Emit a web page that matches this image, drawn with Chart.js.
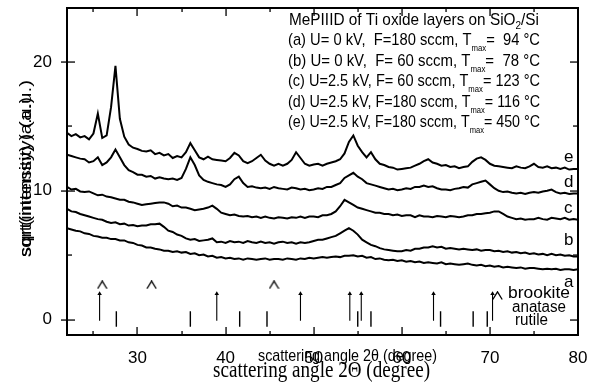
<!DOCTYPE html>
<html>
<head>
<meta charset="utf-8">
<script src="https://cdn.jsdelivr.net/npm/chart.js@4.4.1/dist/chart.umd.min.js"></script>
<style>
  html, body { margin: 0; padding: 0; background: #fff; }
  canvas { display: block; }
</style>
</head>
<body>
<canvas id="c" width="595" height="383"></canvas>
<script>
const ANGLE_START = 22;
const ANGLE_STEP = 0.5;

const seriesE = [
  14.5, 14.25, 14.4, 14.15, 14.25, 14.0, 14.45, 16.0, 14.1, 14.3,
  16.5, 19.7, 15.6, 14.2, 13.6, 13.35, 13.25, 13.1, 13.05, 13.15,
  12.85, 12.95, 12.75, 12.85, 12.55, 12.7, 12.6, 13.0, 13.7, 13.15,
  12.6, 12.45, 12.65, 12.45, 12.4, 12.35, 12.3, 12.55, 12.95, 12.75,
  12.3, 12.15, 12.3, 12.55, 12.8, 12.35, 12.1, 11.95, 12.1, 11.95,
  12.1, 12.4, 13.0, 12.55, 12.1, 11.95, 12.05, 12.1, 11.95, 12.1,
  12.2, 12.3, 12.45, 12.9, 13.8, 14.3, 13.5, 13.0, 12.6, 13.0,
  12.45, 12.1, 12.0, 11.85, 11.8, 11.65, 11.7, 11.75, 11.8, 11.95,
  12.1, 12.3, 12.45, 12.2, 12.1, 11.95, 12.0, 11.85, 11.9, 11.75,
  11.85, 11.9, 12.25, 12.5, 12.6, 12.4, 12.1, 11.95, 11.9, 11.85,
  11.8, 11.75, 11.9, 11.8, 11.75, 11.9, 12.1, 11.85, 11.8, 11.9,
  11.75, 11.8, 11.7, 11.8, 11.65, 11.7, 11.7
];
const seriesD = [
  12.8, 12.7, 12.6, 12.5, 12.45, 12.2, 12.3, 12.6, 12.0, 12.2,
  12.6, 13.2, 12.6, 12.0, 11.6, 11.45, 11.25, 11.25, 11.1, 11.15,
  10.95, 11.05, 10.95, 10.9, 10.95, 10.85, 11.0, 11.7, 12.6, 12.0,
  11.2, 10.85, 10.7, 10.6, 10.5, 10.45, 10.3, 10.5, 10.9, 11.1,
  10.6, 10.3, 10.35, 10.25, 10.2, 10.25, 10.15, 10.3, 10.2, 10.15,
  10.1, 10.25, 10.2, 10.1, 10.15, 10.05, 10.1, 10.2, 10.15, 10.3,
  10.3, 10.45, 10.6, 11.0, 11.2, 11.4, 11.1, 10.9, 10.6, 10.5,
  10.4, 10.3, 10.2, 10.1, 10.15, 10.05, 10.1, 10.2, 10.15, 10.3,
  10.3, 10.4, 10.3, 10.35, 10.2, 10.1, 10.1, 10.05, 10.15, 10.2,
  10.3, 10.25, 10.5, 10.6, 10.7, 10.8, 10.5, 10.2, 10.0, 9.9,
  9.95, 9.85, 9.8, 9.85, 9.75, 9.85, 9.9, 9.85, 9.95, 10.0,
  10.1, 9.9, 9.8, 9.85, 9.75, 9.8, 9.8
];
const seriesC = [
  10.3, 10.1, 10.15, 9.95, 9.9, 9.95, 9.8, 9.65, 9.7, 9.55,
  9.5, 9.4, 9.3, 9.3, 9.15, 9.1, 9.0, 8.9, 8.95, 9.0,
  9.05, 9.1, 9.1, 9.0, 8.8, 8.85, 8.7, 8.7, 8.6, 8.5,
  8.55, 8.6, 8.7, 8.85, 8.6, 8.3, 8.2, 8.1, 8.15, 8.05,
  8.0, 8.05, 7.95, 8.0, 7.9, 8.0, 7.9, 7.85, 7.95, 7.9,
  7.85, 7.95, 7.9, 8.0, 7.9, 8.0, 8.0, 7.95, 8.1, 8.1,
  8.2, 8.4, 8.8, 9.3, 9.1, 8.9, 8.7, 8.6, 8.5, 8.4,
  8.3, 8.3, 8.2, 8.2, 8.1, 8.15, 8.05, 8.1, 8.1, 7.95,
  8.1, 8.0, 8.0, 7.95, 8.05, 8.0, 7.95, 8.05, 8.0, 7.95,
  8.0, 8.1, 8.1, 8.2, 8.2, 8.25, 8.3, 8.4, 8.4, 8.2,
  8.0, 7.9, 7.8, 7.85, 7.75, 7.8, 7.8, 7.9, 7.8, 7.75,
  7.9, 7.85, 7.8, 7.9, 7.75, 7.8, 7.75
];
const seriesB = [
  8.6, 8.4, 8.35, 8.2, 8.1, 8.0, 7.9, 7.8, 7.75, 7.6,
  7.5, 7.55, 7.4, 7.45, 7.3, 7.35, 7.25, 7.3, 7.3, 7.4,
  7.4, 7.45, 7.2, 6.9, 6.8, 6.6, 6.5, 6.3, 6.2, 6.25,
  6.1, 6.15, 6.2, 6.3, 6.0, 6.05, 5.95, 6.1, 6.0, 6.05,
  5.95, 6.1, 6.0, 5.95, 6.05, 5.95, 6.0, 5.9, 6.0, 6.05,
  5.95, 6.0, 5.9, 6.0, 5.95, 6.0, 6.1, 6.2, 6.2, 6.3,
  6.4, 6.5, 6.7, 6.9, 7.1, 6.9, 6.6, 6.2, 6.0, 5.8,
  5.7, 5.55, 5.45, 5.4, 5.35, 5.3, 5.3, 5.4, 5.35, 5.5,
  5.5, 5.6, 5.6, 5.7, 5.6, 5.65, 5.5, 5.55, 5.5, 5.45,
  5.5, 5.45, 5.4, 5.45, 5.35, 5.4, 5.4, 5.3, 5.35, 5.25,
  5.3, 5.2, 5.25, 5.15, 5.2, 5.1, 5.15, 5.05, 5.1, 5.0,
  5.1, 5.0, 5.05, 4.95, 5.0, 4.9, 4.9
];
const seriesA = [
  7.1, 7.0, 6.9, 6.85, 6.7, 6.65, 6.5, 6.45, 6.35, 6.35,
  6.25, 6.25, 6.15, 6.15, 6.0, 5.95, 5.8, 5.75, 5.6, 5.6,
  5.5, 5.45, 5.35, 5.35, 5.25, 5.3, 5.2, 5.25, 5.1, 5.15,
  5.0, 5.05, 4.9, 4.95, 4.8, 4.85, 4.75, 4.8, 4.7, 4.75,
  4.65, 4.75, 4.7, 4.65, 4.7, 4.75, 4.65, 4.7, 4.7, 4.65,
  4.75, 4.7, 4.65, 4.75, 4.7, 4.8, 4.75, 4.8, 4.85, 4.8,
  4.85, 4.9, 4.85, 4.95, 4.95, 5.0, 4.9, 4.95, 4.8, 4.85,
  4.7, 4.75, 4.65, 4.6, 4.65, 4.55, 4.6, 4.5, 4.55, 4.45,
  4.5, 4.4, 4.45, 4.4, 4.35, 4.45, 4.3, 4.35, 4.3, 4.25,
  4.3, 4.35, 4.25, 4.2, 4.25, 4.15, 4.2, 4.1, 4.15, 4.05,
  4.1, 4.05, 4.0, 4.05, 3.95, 4.0, 4.0, 3.95, 3.9, 3.95,
  3.9, 3.95, 3.85, 3.9, 3.9, 3.85, 3.9
];
const seriesNames = ["a", "b", "c", "d", "e"];

// reference line positions (2theta) and their heights
const brookiteX = [26.0, 31.6, 45.5];
const anataseX = [25.7, 39.0, 48.5, 54.1, 55.4, 63.6, 70.3];
const rutileX = [27.6, 36.0, 41.6, 44.7, 55.0, 56.5, 64.4, 68.1, 69.7];
const BROOKITE_Y = 2.7;
const ANATASE_LOW = -0.1, ANATASE_HIGH = 2.0;
const RUTILE_LOW = -0.55, RUTILE_HIGH = 0.65;

// axes
const xTicks = [30, 40, 50, 60, 70, 80];
const xMinorTicks = [25, 35, 45, 55, 65, 75];
const yTicks = [0, 10, 20];
const yMinorTicks = [5, 15];

// texts
const headerText = ["MePIIID of Ti oxide layers on SiO", "2", "/Si"];
const sampleText = [
  "(a) U= 0 kV,  F=180 sccm, T",
  "(b) U= 0 kV,  F= 60 sccm, T",
  "(c) U=2.5 kV, F= 60 sccm, T",
  "(d) U=2.5 kV, F=180 sccm, T",
  "(e) U=2.5 kV, F=180 sccm, T"
];
const sampleTemps = ["=  94 °C", "=  78 °C", "= 123 °C", "= 116 °C", "= 450 °C"];
const phaseNames = ["brookite", "anatase", "rutile"];

const SANS = '"Liberation Sans", Arial, sans-serif';
const SERIF = '"Liberation Serif", "Times New Roman", serif';

// --- build datasets ---
const toPoints = arr => arr.map((v, i) => ({ x: ANGLE_START + i * ANGLE_STEP, y: v }));
const curves = [seriesA, seriesB, seriesC, seriesD, seriesE].map((arr, i) => ({
  label: seriesNames[i],
  data: toPoints(arr),
  borderColor: "#000",
  borderWidth: 2,
  pointRadius: 0,
  tension: 0,
  fill: false
}));

const segs = (xs, lo, hi) => xs.flatMap(x => [{ x, y: lo }, { x, y: hi }, { x, y: null }]);

// little "^" mark used for brookite
const caret = document.createElement("canvas");
caret.width = 11; caret.height = 9;
(function () {
  const c = caret.getContext("2d");
  c.strokeStyle = "#000"; c.lineWidth = 1.3;
  c.beginPath(); c.moveTo(0.8, 8.5); c.lineTo(5.5, 0.8); c.lineTo(10.2, 8.5); c.stroke();
})();

const markers = [
  {
    label: "anatase",
    data: segs(anataseX, ANATASE_LOW, ANATASE_HIGH),
    borderColor: "#000", backgroundColor: "#000", borderWidth: 1.1,
    spanGaps: false,
    pointStyle: "triangle",
    pointRadius: c => (c.raw && c.raw.y === ANATASE_HIGH ? 2.6 : 0),
    pointBorderWidth: 0
  },
  {
    label: "rutile",
    data: segs(rutileX, RUTILE_LOW, RUTILE_HIGH),
    borderColor: "#000", borderWidth: 1.4, spanGaps: false, pointRadius: 0
  },
  {
    label: "brookite",
    data: brookiteX.map(x => ({ x, y: BROOKITE_Y })),
    showLine: false,
    pointStyle: caret,
    pointRadius: 5
  }
];

// --- helpers for text ---
function fitText(ctx, text, x, y, w, font) {
  ctx.save();
  ctx.font = font;
  const m = ctx.measureText(text).width || w;
  ctx.translate(x, y);
  ctx.scale(w / m, 1);
  ctx.textAlign = "left";
  ctx.textBaseline = "alphabetic";
  ctx.fillText(text, 0, 0);
  ctx.restore();
}

// parts: [text, font, dy]
function richText(ctx, parts, x, y, w) {
  ctx.save();
  let total = 0;
  parts.forEach(p => { ctx.font = p[1]; total += ctx.measureText(p[0]).width; });
  ctx.translate(x, y);
  ctx.scale(w / (total || w), 1);
  ctx.textAlign = "left";
  ctx.textBaseline = "alphabetic";
  let cx = 0;
  parts.forEach(p => {
    ctx.font = p[1];
    ctx.fillText(p[0], cx, p[2]);
    cx += ctx.measureText(p[0]).width;
  });
  ctx.restore();
}

// box edges as filled bars, plus inward ticks on all four sides
function drawFrame(chart) {
  const { ctx, chartArea: a, scales } = chart;
  const xs = scales.x, ys = scales.y;
  const L = Math.round(a.left), R = Math.round(a.right), T = Math.round(a.top), B = Math.round(a.bottom);
  ctx.save();
  ctx.fillStyle = "#000";
  ctx.fillRect(L - 1, T - 1, R - L + 2, 2);   // top
  ctx.fillRect(L - 1, B - 1, R - L + 2, 2);   // bottom
  ctx.fillRect(L - 1, T - 1, 2, B - T + 2);   // left
  ctx.fillRect(R - 1, T - 1, 2, B - T + 2);   // right
  const xt = (v, len) => {
    const px = Math.round(xs.getPixelForValue(v));
    ctx.fillRect(px - 0.6, B - len, 1.3, len);
    ctx.fillRect(px - 0.6, T, 1.3, len);
  };
  const yt = (v, len, out) => {
    const py = Math.round(ys.getPixelForValue(v));
    ctx.fillRect(L - out, py - 0.6, len + out, 1.3);
    ctx.fillRect(R - len, py - 0.6, len, 1.3);
  };
  xTicks.forEach(v => xt(v, 8));
  xMinorTicks.forEach(v => xt(v, 4));
  yTicks.forEach(v => yt(v, 8, 6));
  yMinorTicks.forEach(v => yt(v, 5, 0));
  ctx.restore();
}

function drawTexts(chart) {
  const ctx = chart.ctx;
  ctx.save();
  ctx.fillStyle = "#000";

  // header block
  const main = "17px " + SANS, sub = "9px " + SANS, sub2 = "11px " + SANS;
  richText(ctx, [[headerText[0], main, 0], [headerText[1], sub2, 4], [headerText[2], main, 0]], 289, 25, 250);
  const baselines = [45, 66, 86, 107, 127];
  sampleText.forEach((t, i) => {
    richText(ctx, [[t, main, 0], ["max", sub, 6], [sampleTemps[i], main, 0]], 288, baselines[i], 252);
  });

  // curve letters
  ctx.font = "17px " + SANS;
  ctx.textAlign = "left";
  ctx.textBaseline = "alphabetic";
  const letterY = { e: 162, d: 187, c: 213, b: 245, a: 287 };
  seriesNames.forEach(n => ctx.fillText(n, 564, letterY[n]));

  // phase legend
  ctx.drawImage(caret, 492, 291);
  fitText(ctx, phaseNames[0], 508, 298, 62, "16px " + SANS);
  fitText(ctx, phaseNames[1], 512, 312, 54, "16px " + SANS);
  fitText(ctx, phaseNames[2], 515, 325, 33, "16px " + SANS);

  // axis titles (the original shows two overlapping renderings)
  fitText(ctx, "scattering angle 2\u0398 (degree)", 213, 377, 217, "23px " + SERIF);
  fitText(ctx, "scattering angle 2\u03B8 (degree)", 258, 361, 179, "17px " + SANS);

  ctx.translate(31, 257);
  ctx.rotate(-Math.PI / 2);
  fitText(ctx, "sqrt(intensity) (a.u.)", 0, 0, 177, "16px " + SANS);
  fitText(ctx, "sqrt(intensity) (a.u.)", 0, 0, 160, "16px " + SANS);
  ctx.restore();
}

const decorPlugin = {
  id: "decor",
  afterDatasetsDraw(chart) {
    drawFrame(chart);
  },
  afterDraw(chart) {
    drawTexts(chart);
  }
};

new Chart(document.getElementById("c"), {
  type: "line",
  data: { datasets: curves.concat(markers) },
  options: {
    responsive: false,
    animation: false,
    devicePixelRatio: 1,
    events: [],
    layout: { padding: { top: 8, right: 17, left: 0, bottom: 0 } },
    plugins: { legend: { display: false }, tooltip: { enabled: false } },
    scales: {
      x: {
        type: "linear", min: 22, max: 80,
        afterBuildTicks: s => { s.ticks = xTicks.map(v => ({ value: v })); },
        afterFit: s => { s.height = 48; s.paddingLeft = 0; s.paddingRight = 0; },
        grid: { display: false }, border: { display: false },
        ticks: { color: "#000", font: { family: SANS, size: 17 }, padding: 5, maxRotation: 0, autoSkip: false }
      },
      y: {
        type: "linear", min: -1.2, max: 24.2,
        afterBuildTicks: s => { s.ticks = yTicks.map(v => ({ value: v })); },
        afterFit: s => { s.width = 67; s.paddingTop = 0; s.paddingBottom = 0; },
        grid: { display: false }, border: { display: false },
        ticks: { color: "#000", font: { family: SANS, size: 17 }, padding: 7, autoSkip: false }
      }
    }
  },
  plugins: [decorPlugin]
});
</script>
</body>
</html>
